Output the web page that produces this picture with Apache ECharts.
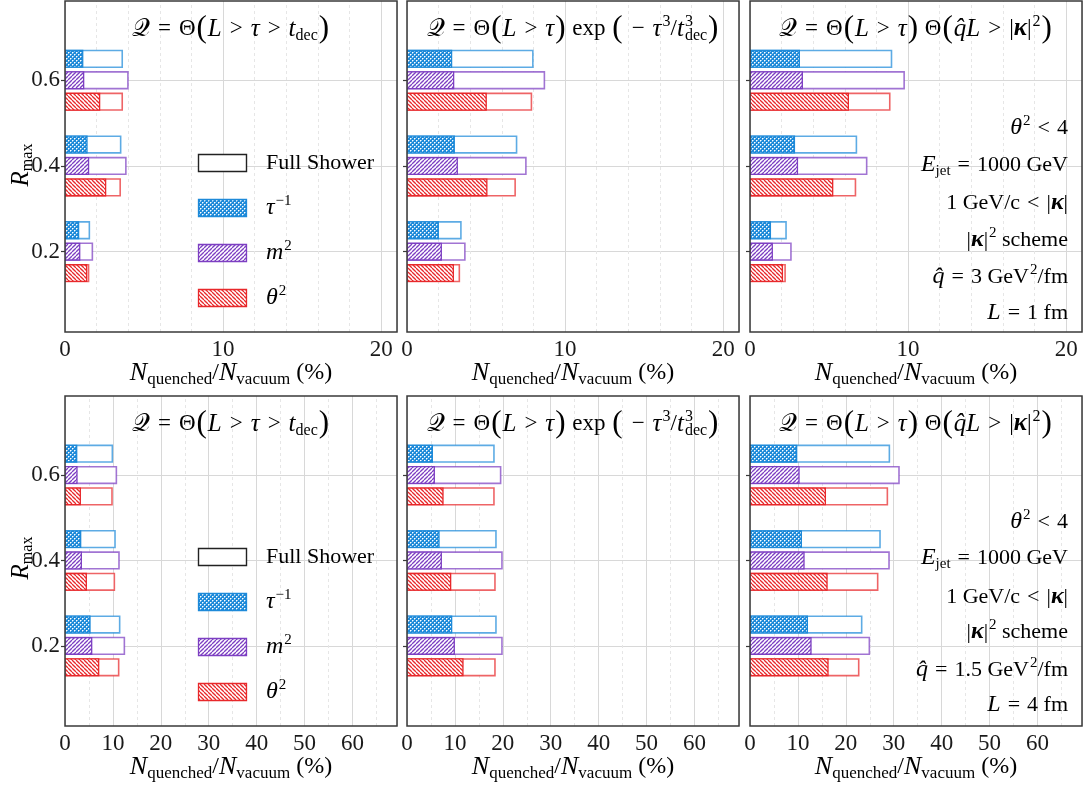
<!DOCTYPE html>
<html><head><meta charset="utf-8">
<script src="https://cdn.jsdelivr.net/npm/echarts@6/dist/echarts.min.js"></script>
<style>html,body{margin:0;padding:0;background:#fff}#c{width:1089px;height:786px}</style>
</head><body><div id="c"></div>
<script>
// ================= DATA =================
const rMax = [0.2, 0.4, 0.6];
const yTickValues = [0.2, 0.4, 0.6];
const xTicksTop = [0, 10, 20];
const xTicksBottom = [0, 10, 20, 30, 40, 50, 60];
const xMinorTop = [2, 4, 6, 8, 12, 14, 16, 18];
const xMinorBottom = [5, 15, 25, 35, 45, 55, 65];
const seriesNames = ['τ⁻¹', 'm²', 'θ²'];

// Top row (E_jet=1000 GeV, qhat=3 GeV^2/fm, L=1 fm); values ordered by rMax
// Panel 1: Q = Θ(L > τ > t_dec)
const p1FullTau = [1.54, 3.52, 3.62];
const p1FullM2  = [1.73, 3.85, 3.98];
const p1FullTh2 = [1.49, 3.49, 3.62];
const p1QTau = [0.86, 1.39, 1.12];
const p1QM2  = [0.93, 1.49, 1.18];
const p1QTh2 = [1.37, 2.57, 2.19];
// Panel 2: Q = Θ(L > τ) exp(-τ³/t³_dec)
const p2FullTau = [3.41, 6.93, 7.96];
const p2FullM2  = [3.66, 7.52, 8.69];
const p2FullTh2 = [3.31, 6.84, 7.87];
const p2QTau = [1.98, 2.99, 2.82];
const p2QM2  = [2.17, 3.18, 2.95];
const p2QTh2 = [2.93, 5.05, 5.01];
// Panel 3: Q = Θ(L > τ) Θ(q̂L > |κ|²)
const p3FullTau = [2.28, 6.73, 8.95];
const p3FullM2  = [2.59, 7.38, 9.75];
const p3FullTh2 = [2.22, 6.67, 8.84];
const p3QTau = [1.29, 2.81, 3.12];
const p3QM2  = [1.41, 3.00, 3.31];
const p3QTh2 = [2.05, 5.23, 6.22];
// Bottom row (E_jet=1000 GeV, qhat=1.5 GeV^2/fm, L=4 fm)
const p4FullTau = [11.41, 10.44, 9.88];
const p4FullM2  = [12.39, 11.27, 10.72];
const p4FullTh2 = [11.20, 10.30, 9.81];
const p4QTau = [5.22, 3.27, 2.44];
const p4QM2  = [5.57, 3.41, 2.50];
const p4QTh2 = [7.03, 4.45, 3.20];
const p5FullTau = [18.57, 18.57, 18.15];
const p5FullM2  = [19.82, 19.82, 19.54];
const p5FullTh2 = [18.36, 18.36, 18.15];
const p5QTau = [9.32, 6.68, 5.29];
const p5QM2  = [9.87, 7.16, 5.70];
const p5QTh2 = [11.68, 9.11, 7.51];
const p6FullTau = [23.31, 27.14, 29.09];
const p6FullM2  = [24.91, 29.02, 31.10];
const p6FullTh2 = [22.69, 26.65, 28.67];
const p6QTau = [11.97, 10.72, 9.74];
const p6QM2  = [12.73, 11.27, 10.23];
const p6QTh2 = [16.28, 16.08, 15.73];

// ================= STYLE =================
const FONT = "'Liberation Serif', 'DejaVu Serif', serif";
const INK = '#1a1a1a';
const BLUE = '#1e8ad9', PURPLE = '#7d3fc2', RED = '#e8282b';
const BAR_H = 0.039, OFFSETS = [0.05, 0, -0.05];

function makePattern(kind, color) {
  const s = 4;
  const c = document.createElement('canvas'); c.width = s; c.height = s;
  const g = c.getContext('2d');
  if (kind === 'cross') {
    g.fillStyle = color; g.fillRect(0, 0, s, s);
    g.fillStyle = '#ffffff';
    g.fillRect(0, 0, 1, 1); g.fillRect(2, 2, 1, 1);
    g.globalAlpha = 0.5; g.fillRect(1, 0, 1, 1); g.fillRect(0, 1, 1, 1); g.fillRect(3, 2, 1, 1); g.fillRect(2, 3, 1, 1);
  } else {
    g.fillStyle = '#ffffff'; g.fillRect(0, 0, s, s);
    g.strokeStyle = color; g.lineWidth = 1.3;
    for (const o of [-s, 0, s]) {
      g.beginPath();
      if (kind === 'fwd') { g.moveTo(o, s); g.lineTo(o + s, 0); }
      else { g.moveTo(o, 0); g.lineTo(o + s, s); }
      g.stroke();
    }
  }
  return { image: c, repeat: 'repeat' };
}
const OBS = [
  { color: BLUE, pat: makePattern('cross', BLUE) },
  { color: PURPLE, pat: makePattern('fwd', PURPLE) },
  { color: RED, pat: makePattern('back', RED) }
];

const panels = [
  { full: [p1FullTau, p1FullM2, p1FullTh2], q: [p1QTau, p1QM2, p1QTh2] },
  { full: [p2FullTau, p2FullM2, p2FullTh2], q: [p2QTau, p2QM2, p2QTh2] },
  { full: [p3FullTau, p3FullM2, p3FullTh2], q: [p3QTau, p3QM2, p3QTh2] },
  { full: [p4FullTau, p4FullM2, p4FullTh2], q: [p4QTau, p4QM2, p4QTh2] },
  { full: [p5FullTau, p5FullM2, p5FullTh2], q: [p5QTau, p5QM2, p5QTh2] },
  { full: [p6FullTau, p6FullM2, p6FullTh2], q: [p6QTau, p6QM2, p6QTh2] }
];

const COL_LEFT = [65, 407, 750], COL_W = 332;
const ROW_TOP = [1, 396], ROW_H = [331, 330];

function rich(fs, relPad) {
  const sfs = Math.round(fs * 0.7);
  const ifs = Math.round(fs * 1.1);
  return {
    n: { fontFamily: FONT, fontSize: fs, color: INK },
    r: { fontFamily: FONT, fontSize: fs, color: INK, padding: [0, relPad, 0, relPad] },
    i: { fontFamily: FONT, fontSize: ifs, fontStyle: 'italic', color: INK },
    q: { fontFamily: FONT, fontSize: ifs, color: INK },
    bi: { fontFamily: FONT, fontSize: ifs, fontStyle: 'italic', fontWeight: 'bold', color: INK },
    big: { fontFamily: FONT, fontSize: Math.round(fs * 1.35), color: INK, padding: [0, 1, 0, 1] },
    sb: { fontFamily: FONT, fontSize: sfs, color: INK, padding: [Math.round(fs * 0.55), 0, 0, 0] },
    sbs: { fontFamily: FONT, fontSize: sfs, color: INK, padding: [Math.round(fs * 0.55), 0, 0, -Math.round(sfs * 0.5)] },
    sp: { fontFamily: FONT, fontSize: sfs, color: INK, padding: [0, 0, Math.round(fs * 0.65), 1] }
  };
}

const grids = [], xAxes = [], yAxes = [], series = [];
panels.forEach((p, k) => {
  const row = Math.floor(k / 3), col = k % 3;
  grids.push({ left: COL_LEFT[col], top: ROW_TOP[row], width: COL_W, height: ROW_H[row],
    show: true, z: 10, backgroundColor: 'transparent', borderColor: '#3a3a3a', borderWidth: 1.5 });
  xAxes.push({ gridIndex: k, type: 'value', min: 0, max: row === 0 ? 21 : 69.3, interval: 10,
    axisLine: { show: false }, axisTick: { show: false },
    axisLabel: { customValues: row === 0 ? xTicksTop : xTicksBottom, fontFamily: FONT, fontSize: 23, color: INK, margin: 6 },
    splitLine: { show: true, lineStyle: { color: '#d8d8d8', width: 1 } } });
  yAxes.push({ gridIndex: k, type: 'value', min: 0.0125, max: 0.785, splitNumber: 4,
    axisLine: { show: false },
    axisTick: { show: true, customValues: yTickValues, length: 4, lineStyle: { color: '#3a3a3a', width: 1.2 } },
    axisLabel: { show: col === 0, customValues: yTickValues, formatter: v => v.toFixed(1), fontFamily: FONT, fontSize: 23, color: INK, margin: 5 },
    splitLine: { show: true, lineStyle: { color: '#d8d8d8', width: 1 } } });
  const minor = row === 0 ? xMinorTop : xMinorBottom;
  for (let j = 0; j < 3; j++) {
    const o = OBS[j];
    const fullData = p.full[j].map((v, r) => [v, rMax[r] + OFFSETS[j]]);
    const qData = p.q[j].map((v, r) => [v, rMax[r] + OFFSETS[j]]);
    series.push({
      type: 'custom', name: 'Full Shower ' + seriesNames[j], xAxisIndex: k, yAxisIndex: k, z: 2, silent: true, clip: true,
      data: fullData,
      renderItem: (params, api) => {
        const a = api.coord([0, api.value(1) + BAR_H / 2]);
        const b = api.coord([api.value(0), api.value(1) - BAR_H / 2]);
        return { type: 'rect', shape: { x: a[0], y: a[1], width: b[0] - a[0], height: b[1] - a[1] },
          style: { fill: '#fff', stroke: o.color, lineWidth: 1.6, strokeOpacity: 0.72 } };
      },
      markLine: j === 0 ? { silent: true, symbol: ['none', 'none'], label: { show: false }, z: 1,
        lineStyle: { type: [3, 3], color: '#e6e6e6', width: 1 },
        data: minor.map(v => ({ xAxis: v })) } : undefined
    });
    series.push({
      type: 'custom', name: seriesNames[j], xAxisIndex: k, yAxisIndex: k, z: 3, silent: true, clip: true,
      data: qData,
      renderItem: (params, api) => {
        const a = api.coord([0, api.value(1) + BAR_H / 2]);
        const b = api.coord([api.value(0), api.value(1) - BAR_H / 2]);
        return { type: 'rect', shape: { x: a[0], y: a[1], width: b[0] - a[0], height: b[1] - a[1] },
          style: { fill: o.pat, stroke: o.color, lineWidth: 1.3 } };
      }
    });
  }
});

// ================= TEXT =================
const RT = rich(23, 8);   // titles
const R22 = rich(22, 7);
const titles = [
  '{q|𝒬}{r|=}{n|Θ}{big|(}{i|L}{r|>}{i|τ}{r|>}{i|t}{sb|dec}{big|)}',
  '{q|𝒬}{r|=}{n|Θ}{big|(}{i|L}{r|>}{i|τ}{big|)}{n| exp }{big|(}{r|−}{i|τ}{sp|3}{n|/}{i|t}{sp|3}{sbs|dec}{big|)}',
  '{q|𝒬}{r|=}{n|Θ}{big|(}{i|L}{r|>}{i|τ}{big|)}{n| Θ}{big|(}{i|q\u0302L}{r|>}{n||}{bi|κ}{n||}{sp|2}{big|)}'
];
const graphics = [];
function txt(x, y, text, align, extra, rs) {
  graphics.push(Object.assign({ type: 'text', x, y, z: 20, silent: true,
    style: { text, rich: rs || R22, align: align || 'center', verticalAlign: 'middle' } }, extra || {}));
}
const RX = rich(24, 4);
[0, 1].forEach(row => {
  const ty = row === 0 ? 29 : 424;
  for (let col = 0; col < 3; col++) {
    const cx = COL_LEFT[col] + COL_W / 2;
    txt(cx, ty, titles[col], 'center', null, RT);
    txt(cx, row === 0 ? 373 : 767, '{i|N}{sb|quenched}{n|/}{i|N}{sb|vacuum}{n| (%)}', 'center', null, RX);
  }
  txt(21, row === 0 ? 165 : 558, '{i|R}{sb|max}', 'center', { rotation: Math.PI / 2 }, rich(23, 4));
  // legend
  const ly = row === 0 ? [163, 208, 253, 298] : [557, 602, 647, 692];
  const labels = ['{n|Full Shower}', '{i|τ}{sp|−1}', '{i|m}{sp|2}', '{i|θ}{sp|2}'];
  ly.forEach((y, i) => {
    graphics.push({ type: 'rect', z: 20, silent: true, shape: { x: 198.5, y: y - 8.5, width: 48, height: 17 },
      style: i === 0 ? { fill: '#fff', stroke: '#222', lineWidth: 1.4 } : { fill: OBS[i - 1].pat, stroke: OBS[i - 1].color, lineWidth: 1.3 } });
    txt(266, y, labels[i], 'left');
  });
  // annotations
  const ann = ['{i|θ}{sp|2}{r|<}{n|4}', '{i|E}{sb|jet}{r|=}{n|1000 GeV}', '{n|1 GeV/c}{r|<}{n||}{bi|κ}{n||}',
    '{n||}{bi|κ}{n||}{sp|2}{n| scheme}', row === 0 ? '{i|q\u0302}{r|=}{n|3 GeV}{sp|2}{n|/fm}' : '{i|q\u0302}{r|=}{n|1.5 GeV}{sp|2}{n|/fm}',
    row === 0 ? '{i|L}{r|=}{n|1 fm}' : '{i|L}{r|=}{n|4 fm}'];
  const ay = row === 0 ? [128, 165, 203, 240, 277, 313] : [522, 558, 597, 632, 670, 705];
  ann.forEach((t, i) => txt(1068, ay[i], t, 'right'));
});

const chart = echarts.init(document.getElementById('c'), null, { renderer: 'canvas' });
chart.setOption({
  animation: false, backgroundColor: '#ffffff',
  grid: grids, xAxis: xAxes, yAxis: yAxes, series, graphic: graphics
});
</script></body></html>
